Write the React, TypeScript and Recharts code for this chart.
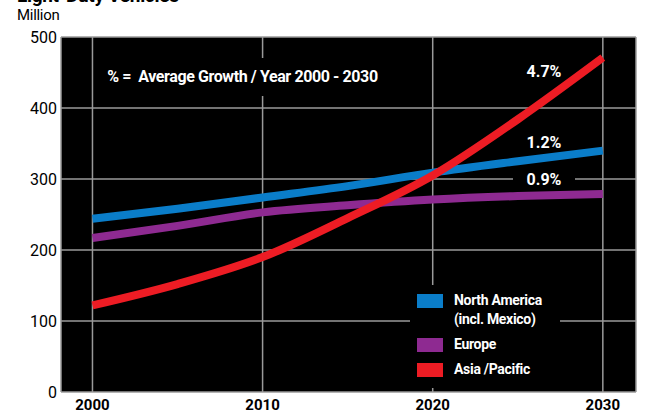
import React from "react"
import { CartesianGrid, Line, LineChart, XAxis, YAxis } from "recharts"

// Light-duty vehicle stock, million units
const years = [2000, 2005, 2010, 2015, 2020, 2025, 2030]
const northAmerica = [244, 258, 274, 290, 309, 325, 340]
const europe = [217, 234, 253, 263, 271, 276, 279]
const asiaPacific = [122, 152, 190, 245, 305, 384, 471]

const xTicks = [2000, 2010, 2020, 2030]
const yTicks = [0, 100, 200, 300, 400, 500]

const series = [
  { key: "northAmerica", name: "North America", sub: "(incl. Mexico)", color: "#0a7dc9" },
  { key: "europe", name: "Europe", sub: "", color: "#8e2a91" },
  { key: "asiaPacific", name: "Asia /Pacific", sub: "", color: "#ed1c24" },
]

const growth = [
  { label: "4.7%", top: 63 },
  { label: "1.2%", top: 134 },
  { label: "0.9%", top: 171, boxed: true },
]

const data = years.map((year, i) => ({
  year,
  northAmerica: northAmerica[i],
  europe: europe[i],
  asiaPacific: asiaPacific[i],
}))

const FONT = 'Roboto, "Liberation Sans", sans-serif'

function ChartLegend() {
  return (
    <div
      style={{
        position: "absolute",
        left: 410,
        top: 285,
        width: 150,
        height: 103,
        paddingTop: 8,
        paddingLeft: 7,
        boxSizing: "border-box",
        background: "#000",
      }}
    >
      {series.map((s) => (
        <div key={s.key} style={{ display: "flex", alignItems: "flex-start", marginBottom: 8 }}>
          <div style={{ width: 26, height: 14, background: s.color, marginTop: 1, marginRight: 11 }} />
          <div style={{ color: "#fff", fontWeight: 700, fontSize: 14, lineHeight: "19px", marginTop: -2, letterSpacing: -0.3 }}>
            <div>{s.name}</div>
            {s.sub && <div>{s.sub}</div>}
          </div>
        </div>
      ))}
    </div>
  )
}

export default function App() {
  return (
    <div style={{ position: "absolute", left: 0, top: 0, width: 648, height: 413, overflow: "hidden", fontFamily: FONT, background: "#fff" }}>
      <div style={{ position: "absolute", left: 17, top: -14, fontSize: 19, fontWeight: 700, lineHeight: "20px", letterSpacing: -0.3 }}>
        Light-Duty Vehicles
      </div>
      <div style={{ position: "absolute", left: 17, top: 6, fontSize: 15, lineHeight: "18px", letterSpacing: -0.3 }}>Million</div>

      <LineChart width={648} height={413} data={data} margin={{ top: 37, right: 12, bottom: 0, left: 0 }}>
        <CartesianGrid stroke="#9a9a9a" strokeWidth={1.5} fill="#000" ticks={yTicks} />
        <XAxis
          dataKey="year"
          type="number"
          domain={[1998.15, 2031.95]}
          ticks={xTicks}
          axisLine={false}
          tickLine={false}
          height={21}
          tickSize={0}
          tickMargin={7}
          tick={{ fontSize: 15, fontWeight: 700, fill: "#000", fontFamily: FONT }}
        />
        <YAxis
          domain={[0, 500]}
          ticks={yTicks}
          width={61}
          axisLine={false}
          tickLine={false}
          tickSize={0}
          tickMargin={4}
          tick={{ fontSize: 16, fill: "#000", fontFamily: FONT }}
        />
        {series.map((s) => (
          <Line
            key={s.key}
            dataKey={s.key}
            name={s.name}
            type="monotone"
            stroke={s.color}
            strokeWidth={8}
            dot={false}
            activeDot={false}
            isAnimationActive={false}
          />
        ))}
      </LineChart>

      <ChartLegend />

      <div
        style={{
          position: "absolute",
          left: 100,
          top: 58,
          width: 285,
          height: 38,
          background: "#000",
          color: "#fff",
          fontWeight: 700,
          fontSize: 16,
          lineHeight: "38px",
          textAlign: "center",
          whiteSpace: "pre",
          letterSpacing: -0.4,
        }}
      >
        {"% =  Average Growth / Year 2000 - 2030"}
      </div>

      {growth.map((g) => (
        <div
          key={g.label}
          style={{
            position: "absolute",
            left: 513,
            top: g.top,
            width: 62,
            height: 18,
            background: g.boxed ? "#000" : "transparent",
            color: "#fff",
            fontWeight: 700,
            fontSize: 16,
            lineHeight: "18px",
            textAlign: "center",
          }}
        >
          {g.label}
        </div>
      ))}
    </div>
  )
}
